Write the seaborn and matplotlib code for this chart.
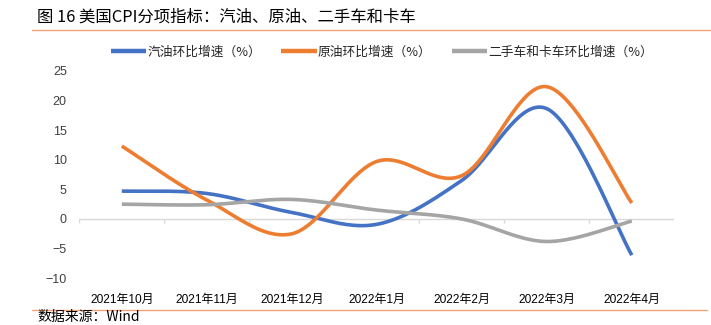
import numpy as np
import pandas as pd
import matplotlib
matplotlib.use("Agg")
import matplotlib.pyplot as plt
import seaborn as sns

# ---------------- data ----------------
months = ["2021年10月", "2021年11月", "2021年12月", "2022年1月", "2022年2月", "2022年3月", "2022年4月"]
gasoline = [4.7, 4.3, 1.1, -0.9, 6.5, 18.6, -6.1]
crude = [12.3, 3.2, -2.5, 9.7, 7.3, 22.3, 2.7]
used_cars = [2.5, 2.4, 3.3, 1.5, 0.0, -3.8, -0.35]
series_names = ["汽油环比增速（%）", "原油环比增速（%）", "二手车和卡车环比增速（%）"]
series_values = [gasoline, crude, used_cars]
colors = ["#4472C4", "#ED7D31", "#A5A5A5"]
yticks = [-10, -5, 0, 5, 10, 15, 20, 25]
title = "图 16 美国CPI分项指标：汽油、原油、二手车和卡车"
source = "数据来源：Wind"

sns.set_theme(style="white")
plt.rcParams["font.family"] = ["Liberation Sans", "Noto Sans CJK SC", "DejaVu Sans"]
plt.rcParams["axes.unicode_minus"] = True


def smooth(xs, ys, n=40):
    """Excel-like smoothed line (Catmull-Rom style Bezier) through the data points."""
    P = np.column_stack([xs, ys]).astype(float)
    m = len(P)
    out = []
    for i in range(m - 1):
        p0 = P[i - 1] if i > 0 else P[i]
        p1 = P[i]
        p2 = P[i + 1]
        p3 = P[i + 2] if i + 2 < m else P[i + 1]
        c1 = p1 + (p2 - p0) / 6.0
        c2 = p2 - (p3 - p1) / 6.0
        t = np.linspace(0, 1, n, endpoint=(i == m - 2))[:, None]
        seg = (1 - t) ** 3 * p1 + 3 * (1 - t) ** 2 * t * c1 + 3 * (1 - t) * t ** 2 * c2 + t ** 3 * p2
        out.append(seg)
    return np.vstack(out)


W, H = 711, 325
fig = plt.figure(figsize=(W / 100, H / 100), dpi=100)
ax_left, ax_right = 79.3 / W, 674.3 / W
ax_top, ax_bot = 1 - 70.7 / H, 1 - 278.3 / H
ax = fig.add_axes([ax_left, ax_bot, ax_right - ax_left, ax_top - ax_bot])

xidx = np.arange(len(months))
frames = []
for name, vals in zip(series_names, series_values):
    c = smooth(xidx, vals)
    frames.append(pd.DataFrame({"x": c[:, 0], "y": c[:, 1], "series": name, "order": np.arange(len(c))}))
df = pd.concat(frames, ignore_index=True)

for name, col in zip(series_names, colors):
    sub = df[df["series"] == name]
    sns.lineplot(data=sub, x="x", y="y", ax=ax, color=col, lw=2.6, sort=False,
                 estimator=None, label=name, solid_capstyle="butt")

ax.set_xlim(-0.5, len(months) - 0.5)
ax.set_ylim(-10, 25)
ax.axhline(0, color="#D9D9D9", lw=1.0, zorder=0)
bounds = np.arange(len(months) + 1) - 0.5
ax.vlines(bounds, -0.65, 0, color="#D9D9D9", lw=1.0, zorder=0)

for s in ax.spines.values():
    s.set_visible(False)
ax.set_yticks(yticks)
ax.set_yticklabels([str(v).replace("-", "\u2212") for v in yticks], fontsize=9, color="#404040")
ax.set_xticks(xidx)
ax.set_xticklabels(months, fontsize=8.6, color="#000000")
ax.tick_params(axis="y", length=0, pad=9)
ax.tick_params(axis="x", length=0, pad=11)
ax.set_xlabel("")
ax.set_ylabel("")
ax.grid(False)

leg = ax.legend(loc="center", bbox_to_anchor=(382 / W, 1 - 52 / H), bbox_transform=fig.transFigure,
                ncol=3, frameon=False, fontsize=9.2, handlelength=2.75, handletextpad=0.1,
                columnspacing=1.6, borderaxespad=0, borderpad=0)
for t in leg.get_texts():
    t.set_family(["Noto Sans CJK SC", "DejaVu Sans"])
for l in leg.get_lines():
    l.set_linewidth(3.2)

fig.text(37 / W, 1 - 17 / H, title, fontsize=11.8, va="center", ha="left",
         family=["Noto Sans CJK SC", "DejaVu Sans"], color="#000000")
fig.add_artist(plt.Line2D([32 / W, 1.0], [1 - 29.5 / H] * 2, transform=fig.transFigure,
                          color="#F0A27A", lw=1.0))
fig.add_artist(plt.Line2D([32 / W, 707 / W], [1 - 309.5 / H] * 2, transform=fig.transFigure,
                          color="#F0A27A", lw=1.0))
fig.text(37 / W, 1 - 324 / H, source, fontsize=10, va="bottom", ha="left", style="italic",
         family=["Noto Sans CJK SC", "DejaVu Sans"], color="#000000")

fig.savefig("out.png", dpi=100)
